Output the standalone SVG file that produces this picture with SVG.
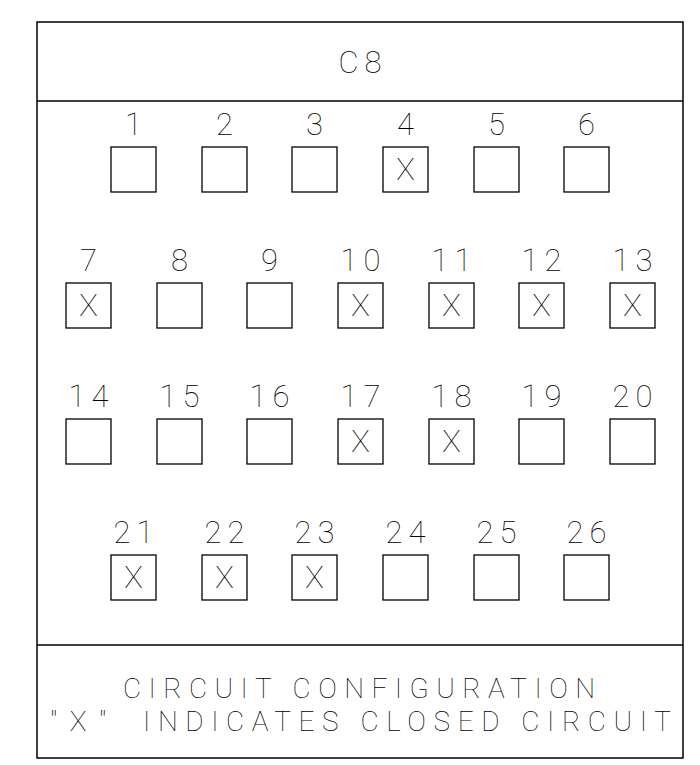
<svg xmlns="http://www.w3.org/2000/svg" width="700" height="765" viewBox="0 0 700 765">
<style>
.frame{fill:none;stroke:#000;stroke-width:1.5}
.box{fill:#fff;stroke:#000;stroke-width:1.3}
text{font-family:Roboto,"Liberation Sans",sans-serif;font-weight:100;fill:#000;font-size:31px}
.num{text-anchor:middle;letter-spacing:6px}
.x{text-anchor:middle}
.big{font-size:28px}
</style>
<rect width="700" height="765" fill="#fff"/>
<g id="frame">
<rect class="frame" x="37" y="22" width="646" height="736"/>
<line class="frame" x1="37" y1="101" x2="683" y2="101"/>
<line class="frame" x1="37" y1="645" x2="683" y2="645"/>
<text class="num" x="363" y="73">C8</text>
</g>
<g id="connectors"></g>
<g id="n1"><rect class="box" x="111" y="147" width="45" height="45"/><text class="num" x="136.5" y="135">1</text></g>
<g id="n2"><rect class="box" x="202" y="147" width="45" height="45"/><text class="num" x="227.5" y="135">2</text></g>
<g id="n3"><rect class="box" x="292" y="147" width="45" height="45"/><text class="num" x="317.5" y="135">3</text></g>
<g id="n4"><rect class="box" x="383" y="147" width="45" height="45"/><text class="num" x="408.5" y="135">4</text><text class="x" x="405.5" y="180">X</text></g>
<g id="n5"><rect class="box" x="474" y="147" width="45" height="45"/><text class="num" x="499.5" y="135">5</text></g>
<g id="n6"><rect class="box" x="564" y="147" width="45" height="45"/><text class="num" x="589.5" y="135">6</text></g>
<g id="n7"><rect class="box" x="66" y="283" width="45" height="45"/><text class="num" x="91.5" y="271">7</text><text class="x" x="88.5" y="316">X</text></g>
<g id="n8"><rect class="box" x="157" y="283" width="45" height="45"/><text class="num" x="182.5" y="271">8</text></g>
<g id="n9"><rect class="box" x="247" y="283" width="45" height="45"/><text class="num" x="272.5" y="271">9</text></g>
<g id="n10"><rect class="box" x="338" y="283" width="45" height="45"/><text class="num" x="363.5" y="271">10</text><text class="x" x="360.5" y="316">X</text></g>
<g id="n11"><rect class="box" x="429" y="283" width="45" height="45"/><text class="num" x="454.5" y="271">11</text><text class="x" x="451.5" y="316">X</text></g>
<g id="n12"><rect class="box" x="519" y="283" width="45" height="45"/><text class="num" x="544.5" y="271">12</text><text class="x" x="541.5" y="316">X</text></g>
<g id="n13"><rect class="box" x="610" y="283" width="45" height="45"/><text class="num" x="635.5" y="271">13</text><text class="x" x="632.5" y="316">X</text></g>
<g id="n14"><rect class="box" x="66" y="419" width="45" height="45"/><text class="num" x="91.5" y="407">14</text></g>
<g id="n15"><rect class="box" x="157" y="419" width="45" height="45"/><text class="num" x="182.5" y="407">15</text></g>
<g id="n16"><rect class="box" x="247" y="419" width="45" height="45"/><text class="num" x="272.5" y="407">16</text></g>
<g id="n17"><rect class="box" x="338" y="419" width="45" height="45"/><text class="num" x="363.5" y="407">17</text><text class="x" x="360.5" y="452">X</text></g>
<g id="n18"><rect class="box" x="429" y="419" width="45" height="45"/><text class="num" x="454.5" y="407">18</text><text class="x" x="451.5" y="452">X</text></g>
<g id="n19"><rect class="box" x="519" y="419" width="45" height="45"/><text class="num" x="544.5" y="407">19</text></g>
<g id="n20"><rect class="box" x="610" y="419" width="45" height="45"/><text class="num" x="635.5" y="407">20</text></g>
<g id="n21"><rect class="box" x="111" y="555" width="45" height="45"/><text class="num" x="136.5" y="543">21</text><text class="x" x="133.5" y="588">X</text></g>
<g id="n22"><rect class="box" x="202" y="555" width="45" height="45"/><text class="num" x="227.5" y="543">22</text><text class="x" x="224.5" y="588">X</text></g>
<g id="n23"><rect class="box" x="292" y="555" width="45" height="45"/><text class="num" x="317.5" y="543">23</text><text class="x" x="314.5" y="588">X</text></g>
<g id="n24"><rect class="box" x="383" y="555" width="45" height="45"/><text class="num" x="408.5" y="543">24</text></g>
<g id="n25"><rect class="box" x="474" y="555" width="45" height="45"/><text class="num" x="499.5" y="543">25</text></g>
<g id="n26"><rect class="box" x="564" y="555" width="45" height="45"/><text class="num" x="589.5" y="543">26</text></g>
<g id="caption">
<text class="big" x="123" y="698" textLength="472" lengthAdjust="spacing">CIRCUIT CONFIGURATION</text>
<text class="big" y="731"><tspan x="50" textLength="56" lengthAdjust="spacing">"X"</tspan><tspan x="143" textLength="528" lengthAdjust="spacing">INDICATES CLOSED CIRCUIT</tspan></text>
</g>
</svg>
